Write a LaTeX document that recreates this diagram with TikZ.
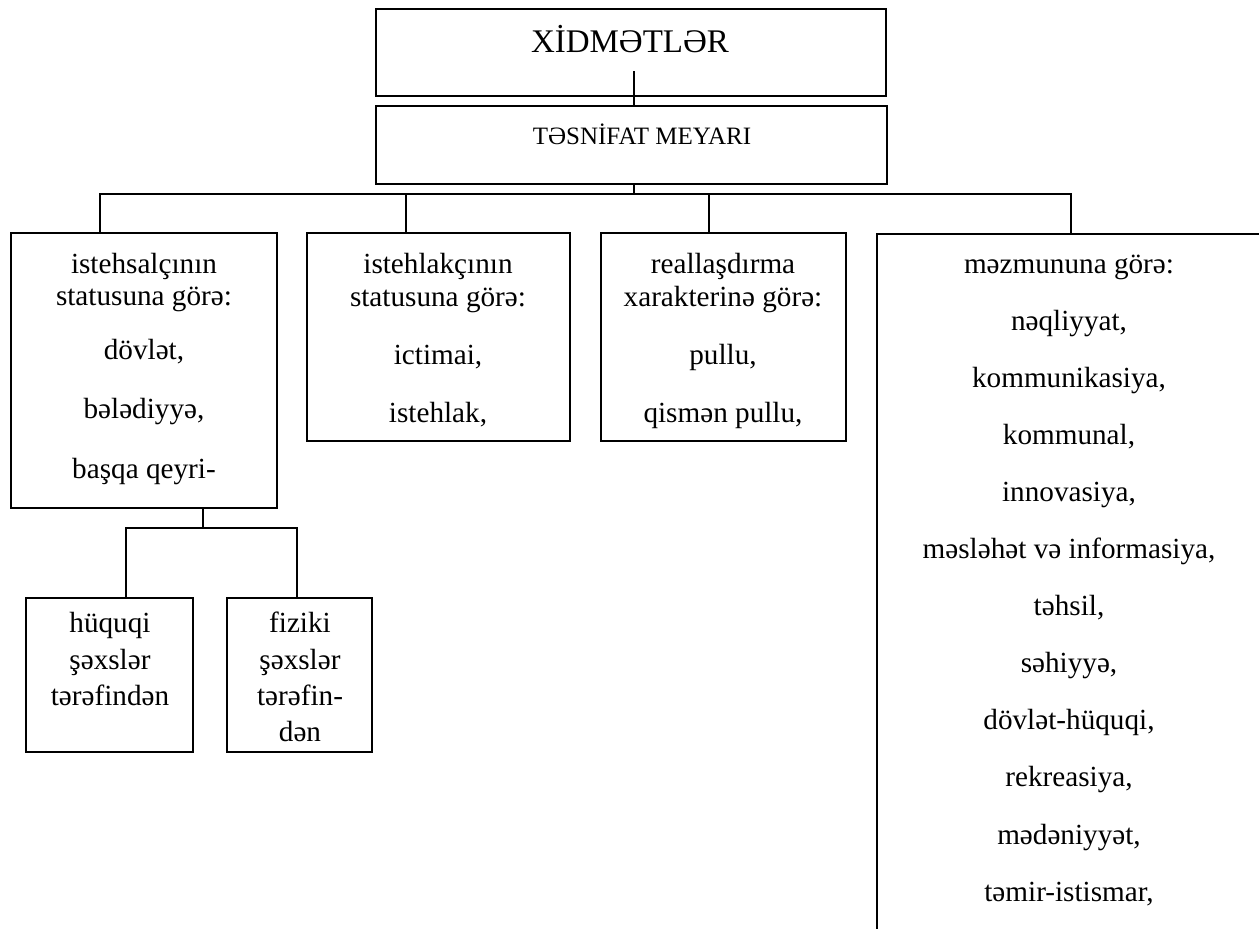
\documentclass[tikz,border=0pt]{standalone}
\usepackage{fontspec}
\setmainfont{Liberation Serif}
\usetikzlibrary{fit}
\begin{document}
\begin{tikzpicture}[x=0.5pt,y=-0.5pt,
  boxline/.style={draw=black, line width=1pt, inner sep=0pt},
  openbox/.style={inner sep=0pt},
  conn/.style={draw=black, line width=0.8pt},
  txt/.style={inner sep=0pt, anchor=base, font=\fontsize{14.6}{17}\selectfont}]
\useasboundingbox (0,0) rectangle (1259,928);
\fill[white] (0,0) rectangle (1259,928);
% top boxes
\node[boxline, fit={(376,9) (886,96)}] (xid) {};
\node[boxline, fit={(376,106) (887,184)}] (tas) {};
\node[txt, font=\fontsize{16.5}{19}\selectfont] (xidt) at (630,52) {XİDMƏTLƏR};
\node[txt, font=\fontsize{12.5}{15}\selectfont] (tast) at (642,144) {TƏSNİFAT MEYARI};
% second level boxes
\node[boxline, fit={(11,233) (277,508)}] (b1) {};
\node[boxline, fit={(307,233) (570,441)}] (b2) {};
\node[boxline, fit={(601,233) (846,441)}] (b3) {};
\node[openbox, fit={(877,234) (1263,932)}] (b4) {};
\draw[line width=1pt] (b4.north east) -- (b4.north west) -- (b4.south west);
% box 1 text
\node[txt] (b1a) at (144,273) {istehsalçının};
\node[txt] (b1b) at (144,305) {statusuna görə:};
\node[txt] (b1c) at (144,359) {dövlət,};
\node[txt] (b1d) at (144,418) {bələdiyyə,};
\node[txt] (b1e) at (144,478) {başqa qeyri-};
% box 2 text
\node[txt] (b2a) at (438,273) {istehlakçının};
\node[txt] (b2b) at (438,306) {statusuna görə:};
\node[txt] (b2c) at (438,364) {ictimai,};
\node[txt] (b2d) at (438,422) {istehlak,};
% box 3 text
\node[txt] (b3a) at (723,273) {reallaşdırma};
\node[txt] (b3b) at (723,306) {xarakterinə görə:};
\node[txt] (b3c) at (723,364) {pullu,};
\node[txt] (b3d) at (723,422) {qismən pullu,};
% box 4 text
\foreach \t [count=\i] in {{məzmununa görə:},{nəqliyyat,},{kommunikasiya,},{kommunal,},{innovasiya,},{məsləhət və informasiya,},{təhsil,},{səhiyyə,},{dövlət-hüquqi,},{rekreasiya,},{mədəniyyət,},{təmir-istismar,}}
  \node[txt] (b4l\i) at (1069,{273+57.1*(\i-1)}) {\t};
% sub boxes
\node[boxline, fit={(26,598) (193,752)}] (s1) {};
\node[boxline, fit={(227,598) (372,752)}] (s2) {};
\node[txt] (s1a) at (110,632) {hüquqi};
\node[txt] (s1b) at (110,669) {şəxslər};
\node[txt] (s1c) at (110,705) {tərəfindən};
\node[txt] (s2a) at (300,632) {fiziki};
\node[txt] (s2b) at (300,669) {şəxslər};
\node[txt] (s2c) at (300,705) {tərəfin-};
\node[txt] (s2d) at (300,741) {dən};
% connectors
\coordinate (jt) at (634,71);
\draw[conn] (jt) -- (tas.north -| jt);
\coordinate (jm) at (634,194);
\draw[conn] (tas.south -| jm) -- (jm);
\coordinate (h1) at (100,194);
\coordinate (h2) at (406,194);
\coordinate (h3) at (709,194);
\coordinate (h4) at (1071,194);
\draw[conn, line width=1pt] (b1.north -| h1) -- (h1) -- (h4) -- (b4.north -| h4);
\draw[conn] (h2) -- (b2.north -| h2);
\draw[conn] (h3) -- (b3.north -| h3);
\coordinate (k0) at (203,528);
\coordinate (k1) at (126,528);
\coordinate (k2) at (297,528);
\draw[conn] (b1.south -| k0) -- (k0);
\draw[conn] (s1.north -| k1) -- (k1) -- (k2) -- (s2.north -| k2);
\end{tikzpicture}
\end{document}
